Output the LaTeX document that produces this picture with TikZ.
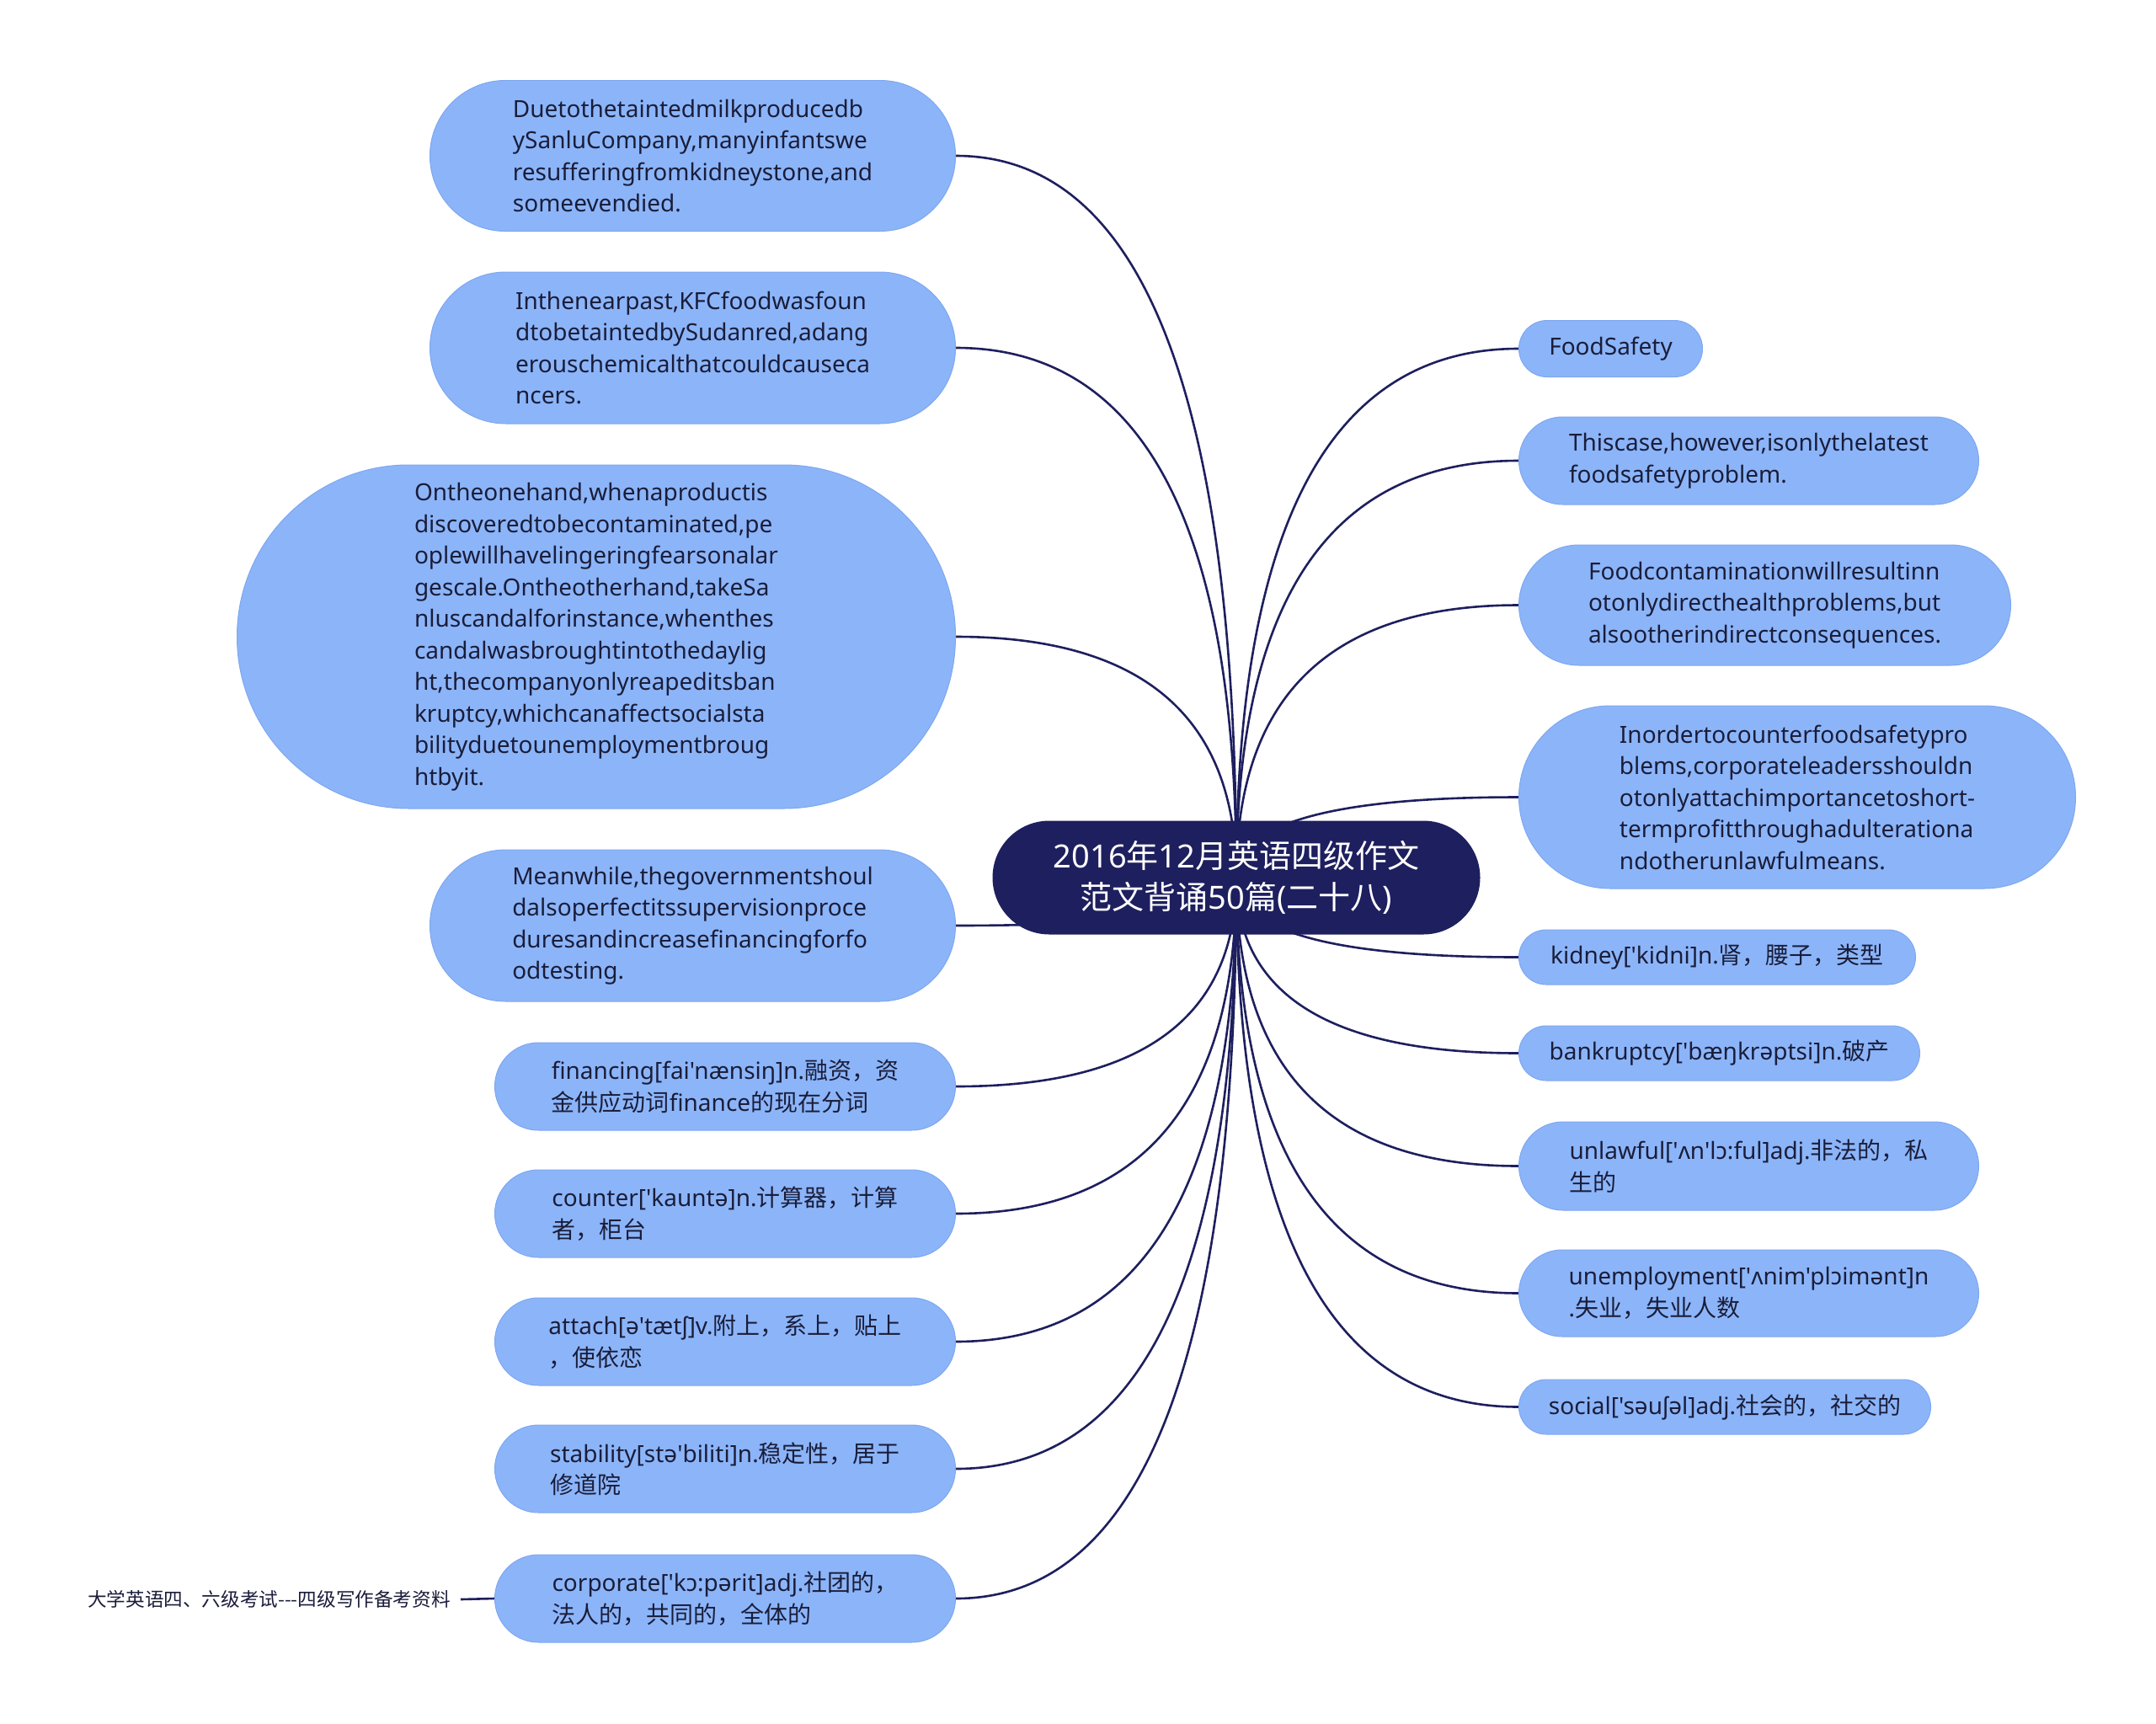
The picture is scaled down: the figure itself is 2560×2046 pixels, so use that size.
\documentclass[tikz,border=0pt]{standalone}
\usepackage{fontspec}
\newfontfamily\latin{Noto Sans}
\newfontfamily\cjk{Noto Sans CJK SC}
\usetikzlibrary{calc,backgrounds}
\definecolor{navy}{HTML}{1E1F5E}
\definecolor{pillblue}{HTML}{8CB5F9}
\definecolor{pilledge}{HTML}{7DA7F0}
\definecolor{ink}{HTML}{1A1D3A}
\tikzset{
  link/.style={draw=navy, line width=1.3pt},
  pill/.style 2 args={rectangle, rounded corners=#2/2, minimum width=#1, minimum height=#2,
    fill=pillblue, draw=pilledge, line width=0.5pt, text=ink, align=left, inner sep=0pt,
    font=\latin\fontsize{14}{18.75}\selectfont},
  hub/.style={rectangle, rounded corners=33.75pt, minimum width=289.5pt, minimum height=67.5pt,
    fill=navy, text=white, align=center, inner sep=0pt, font=\latin\fontsize{19}{24.5}\selectfont},
  leaftext/.style={text=ink, inner xsep=6pt, inner ysep=0pt, font=\cjk\fontsize{11.3}{14}\selectfont}
}
\newcommand\hubbranch[1]{\draw[link] (C.center) .. controls ($(C.center)!0.6667!(C.center |- #1)$) and ($(#1)!0.6667!(C.center |- #1)$) .. (#1);}
\begin{document}
\begin{tikzpicture}[x=0.5pt,y=-0.5pt]
\useasboundingbox (0,0) rectangle (2560,2046);
% hub
\node[hub] (C) at (1468,1042) {2016{\cjk 年}12{\cjk 月英语四级作文}\\{\cjk 范文背诵}50{\cjk 篇}({\cjk 二十八})};
% left branches
\node[pill={312pt}{89.5pt}, anchor=east] (L1) at (1135,185) {Duetothetaintedmilkproducedb\\ySanluCompany,manyinfantswe\\resufferingfromkidneystone,and\\someevendied.};
\node[pill={312pt}{90pt}, anchor=east] (L2) at (1135,413) {Inthenearpast,KFCfoodwasfoun\\dtobetaintedbySudanred,adang\\erouschemicalthatcouldcauseca\\ncers.};
\node[pill={426.5pt}{204pt}, anchor=east] (L3) at (1135,756) {Ontheonehand,whenaproductis\\discoveredtobecontaminated,pe\\oplewillhavelingeringfearsonalar\\gescale.Ontheotherhand,takeSa\\nluscandalforinstance,whenthes\\candalwasbroughtintothedaylig\\ht,thecompanyonlyreapeditsban\\kruptcy,whichcanaffectsocialsta\\bilityduetounemploymentbroug\\htbyit.};
\node[pill={312pt}{90pt}, anchor=east] (L4) at (1135,1099) {Meanwhile,thegovernmentshoul\\dalsoperfectitssupervisionproce\\duresandincreasefinancingforfo\\odtesting.};
\node[pill={273.5pt}{52pt}, anchor=east] (L5) at (1135,1290) {financing[fai'nænsiŋ]n.{\cjk 融资，资}\\{\cjk 金供应动词}finance{\cjk 的现在分词}};
\node[pill={273.5pt}{52pt}, anchor=east] (L6) at (1135,1441) {counter['kauntə]n.{\cjk 计算器，计算}\\{\cjk 者，柜台}};
\node[pill={273.5pt}{52pt}, anchor=east] (L7) at (1135,1593) {attach[ə'tætʃ]v.{\cjk 附上，系上，贴上}\\{\cjk ，使依恋}};
\node[pill={273.5pt}{52pt}, anchor=east] (L8) at (1135,1744) {stability[stə'biliti]n.{\cjk 稳定性，居于}\\{\cjk 修道院}};
\node[pill={273.5pt}{52pt}, anchor=east] (L9) at (1135,1898) {corporate['kɔ:pərit]adj.{\cjk 社团的，}\\{\cjk 法人的，共同的，全体的}};
\node[leaftext, anchor=east] (leaf) at (547,1899) {大学英语四、六级考试---四级写作备考资料};
% right branches
\node[pill={109pt}{33.5pt}, anchor=west] (R1) at (1803,414) {FoodSafety};
\node[pill={273pt}{52pt}, anchor=west] (R2) at (1803,547) {Thiscase,however,isonlythelatest\\foodsafetyproblem.};
\node[pill={292pt}{71.5pt}, anchor=west] (R3) at (1803,718.5) {Foodcontaminationwillresultinn\\otonlydirecthealthproblems,but\\alsootherindirectconsequences.};
\node[pill={330.5pt}{108.5pt}, anchor=west] (R4) at (1803,946.5) {Inordertocounterfoodsafetypro\\blems,corporateleadersshouldn\\otonlyattachimportancetoshort-\\termprofitthroughadulterationa\\ndotherunlawfulmeans.};
\node[pill={235.5pt}{32.5pt}, anchor=west] (R5) at (1803,1136.5) {kidney['kidni]n.{\cjk 肾，腰子，类型}};
\node[pill={238pt}{32.5pt}, anchor=west] (R6) at (1803,1250.5) {bankruptcy['bæŋkrəptsi]n.{\cjk 破产}};
\node[pill={273pt}{52.5pt}, anchor=west] (R7) at (1803,1384.5) {unlawful['ʌn'lɔ:ful]adj.{\cjk 非法的，私}\\{\cjk 生的}};
\node[pill={273pt}{51.5pt}, anchor=west] (R8) at (1803,1535.5) {unemployment['ʌnim'plɔimənt]n\\.{\cjk 失业，失业人数}};
\node[pill={244.5pt}{32.5pt}, anchor=west] (R9) at (1803,1670.5) {social['səuʃəl]adj.{\cjk 社会的，社交的}};
% connectors
\begin{pgfonlayer}{background}
\fill[white] (0,0) rectangle (2560,2046);
\foreach \n in {L1,L2,L3,L4,L5,L6,L7,L8,L9} {\hubbranch{\n.east}}
\foreach \n in {R1,R2,R3,R4,R5,R6,R7,R8,R9} {\hubbranch{\n.west}}
\draw[link] (L9.west) -- (leaf.east);
\end{pgfonlayer}
\end{tikzpicture}
\end{document}
